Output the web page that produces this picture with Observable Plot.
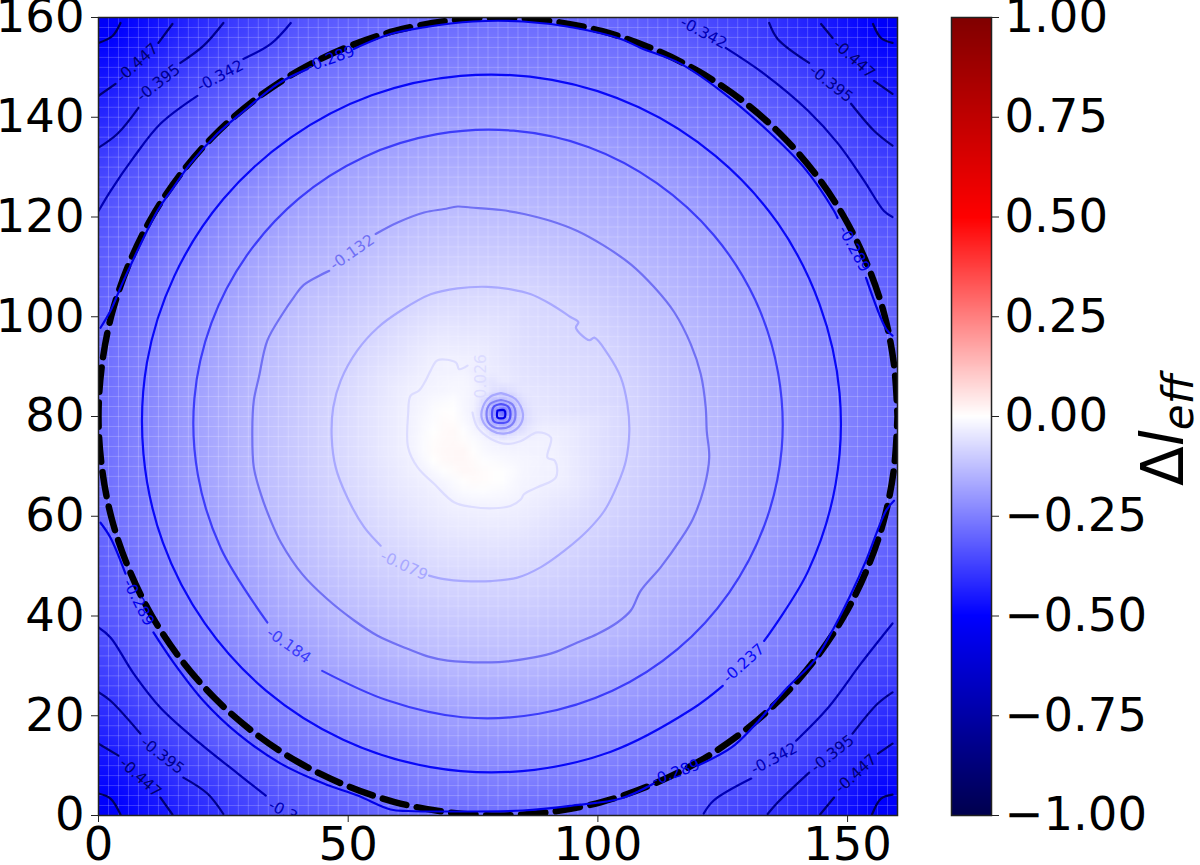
<!DOCTYPE html>
<html>
<head>
<meta charset="utf-8">
<script src="https://cdn.jsdelivr.net/npm/d3@7"></script>
<script src="https://cdn.jsdelivr.net/npm/@observablehq/plot@0.6"></script>
<style>
html,body{margin:0;padding:0;background:#fff;}
#chart{position:relative;width:1200px;height:865px;overflow:hidden;}
#chart svg{position:absolute;left:0;top:0;overflow:visible;background:transparent;}
</style>
</head>
<body>
<div id="chart"></div>
<script>
const GAP = [NaN, NaN];

const xTicks = [0, 50, 100, 150];
const yTicks = [0, 20, 40, 60, 80, 100, 120, 140, 160];
const barTicks = [-1, -0.75, -0.5, -0.25, 0, 0.25, 0.5, 0.75, 1];
const colorDomain = [-1, -0.5, 0, 0.5, 1];
const colorRange = ["#00004d", "#0000ff", "#ffffff", "#ff0000", "#800000"];

// contour lines in data units
const c026 = [[73.9,90.2],[72.2,89.5],[71.6,90.8],[67.9,91.3],[66.5,89.2],[65.5,87.2],[64.2,85.2],[62.5,84.2],[62,80.5],[62,73.8],[63.9,69.8],[67.2,66.5],[71.2,62.8],[74.6,61.9],[79.2,61.6],[82.6,62.1],[84.6,63.4],[85.2,64.4],[87.9,65.8],[91.6,67.8],[91.4,71.1],[89.9,71.8],[90.6,75.8],[87.9,76.8],[84.6,75.1],[81.9,74.5],[78.6,75.5],[75.9,77.8],[74.9,80.8]];
const c079 = [[56.5,54.1],[53.2,57.8],[49.8,63.8],[47.5,69.8],[46.7,75.8],[47,81.8],[48.5,87.2],[51.8,93.2],[55.9,97.8],[60.5,101.2],[66.5,104.5],[71.9,105.7],[77.9,106],[82.6,105.5],[86.6,104.5],[90.6,102.5],[94.6,99.9],[96.1,98.9],[95.6,97.8],[98.3,95.3],[99.3,95.8],[102,92.5],[104.6,87.8],[105.9,82.5],[106.3,77.1],[105.6,71.1],[104,66.5],[101.3,61.1],[97.9,57.1],[93.3,53.1],[88.6,49.8],[83.9,47.7],[78.6,47],[73.2,47],[69.2,47.4],[66.2,48.1]];
const c132 = [[55.5,116.6],[59.9,118.9],[65.2,120.9],[69.2,121.6],[71.9,122.1],[74.5,121.9],[80.6,121.4],[85.2,120.6],[90.6,119.2],[95.9,117.2],[101.3,114.2],[106.6,110.5],[111.3,105.9],[115.3,100.9],[118.6,94.5],[120.6,88.5],[121.6,81.8],[121.8,77.15],[122.3,71.8],[121.3,65.8],[119,59.4],[116.6,55.4],[112.6,49.8],[108.6,45.1],[106.6,41.1],[103.9,38.7],[99.9,36.4],[95.9,34.7],[91.3,32.7],[87.2,31.7],[81.9,30.9],[78.6,30.7],[69.9,31.05],[65.9,31.9],[61.2,33.7],[55.8,36.1],[51.2,39.1],[45.8,43.4],[40.8,48.4],[36.5,54.8],[34.5,59.1],[32.5,64.5],[31.1,69.8],[30.8,77.15],[31.1,83.2],[32.1,87.8],[33.8,95.2],[36.8,100.5],[39.1,103.9],[41.1,106.4],[46.2,109.2]];
const c184 = [[44.8,29],[57.8,23.1],[72.9,19.7],[88.2,20.4],[102.9,25],[115.9,33.3],[126.3,44.7],[133.4,58.3],[136.8,73.4],[136.1,88.7],[131.5,103.4],[123.2,116.4],[111.8,126.8],[98.2,134],[83.1,137.3],[67.8,136.6],[53.1,132],[40.1,123.7],[29.7,112.3],[22.6,98.7],[19.2,83.6],[19.9,68.3],[24.5,53.6],[33.8,38.7]];
const c237 = [[133.3,35],[142.1,49],[147.6,66.4],[148.4,84.7],[144.4,102.5],[136,118.8],[123.6,132.2],[108.2,142],[90.8,147.5],[72.5,148.3],[54.7,144.4],[38.5,135.9],[25,123.6],[15.2,108.2],[9.7,90.8],[9,72.5],[12.9,54.7],[21.3,38.5],[33.6,25],[49,15.2],[66.5,9.7],[84.8,8.9],[102.6,12.8],[118.8,21.3],[125,26]];
const c289 = [[0.4,97.8],[2.4,101.2],[5,107.2],[11.8,121.2],[15,125.9],[18.4,130.7],[23.8,136.7],[29.9,141.9],[35.9,146.7],[41.9,149.7],GAP,
  [51.1,153.7],[58.5,156.7],[65,158],[75,159.2],[85,159.2],[95,158],[104.6,155.7],[108.6,153.9],[116.6,150.7],[124.6,145.3],[134,137.3],[141.3,129.9],[147.3,121.2],[148,119.8],GAP,
  [153.7,107.8],[157.7,97.6],[159,96.2],GAP,
  [159.3,63.1],[157.7,61.1],[153.7,51.1],[150.5,44],[147.3,37.7],[143.3,31],[138,25.7],[131.3,18],[126.7,13.6],[120,10],GAP,
  [111.2,6.4],[104.6,3.4],[95,2],[85,1],[70,0.8],[62,0.9],[58.5,1.2],[51.9,4],[45.1,6.4],[36.5,10.4],[27.9,16.4],[21,23],[15,30.7],[11,36.7],GAP,
  [5.4,48.5],[2.4,55.7],[0.4,58.7]];
const c342 = [[0,121.2],[2.4,125.2],[7,131.9],[12.4,138.7],[19.8,144.3],GAP,[29,151.7],[34.5,154.7],[38.5,158.9],GAP,
  [125.6,153.9],[133.3,148.7],[142.1,141.3],[148.1,134.7],[153.3,127.3],[157.3,121.2],[159,120],GAP,
  [0,37.7],[2.4,35.7],[7,28.5],[12.4,21.6],[20.4,14.4],[27.9,8.4],[33.5,4],GAP,
  [121.2,0.4],[123.2,3],[130.7,7.4],GAP,[139.7,15],[146.1,21.6],[152.7,30.5],[159,38.5]];
const c395 = [[0,133.9],[3.8,136.7],[8,141.9],GAP,[16.4,150.9],[21,154.3],[25,158.9],GAP,
  [134.3,158.9],[136,155.7],[142.3,150.9],GAP,[150.7,142.7],[155.3,137.3],[159,134.3],GAP,
  [0,24.7],[2.4,23],[8.4,16.4],GAP,[17,7.6],[21.8,4.4],[25,0.3],GAP,
  [134,0.3],[136,2.6],[142.3,8.6],GAP,[151,16.4],[156,22.4],[159,24.7]];
const c447 = [[0,144.3],[3.4,146.7],GAP,[12,154.9],[14.8,158.7],GAP,
  [144.7,158.7],[147,155.9],GAP,[155.3,147.3],[159,144.7],GAP,
  [0,14.4],[4,12],GAP,[12.4,3.6],[14.8,0.2],GAP,
  [144.5,0.2],[147.3,3.6],GAP,[156.1,12.4],[159,14.4]];
const c500 = [[0,154.9],[2.8,156.3],[4.4,158.9],GAP,
  [155.1,158.7],[156.7,155.9],[159,154.9],GAP,
  [0,4.4],[2.4,3.4],[4.4,0.2],GAP,
  [154.9,0.2],[156.7,3.4],[159,4.2]];
const hole079 = [[80.6,84.7],[83.5,83.5],[85,80.5],[84.2,78],[81.5,76.6],[78.7,77.2],[76.8,79.5],[77,82],[78.5,84],[80.6,84.7]];
const hole132 = [[80.6,83.3],[82.8,82.5],[83.5,80.5],[82.8,78.4],[80.6,77.6],[78.4,78.4],[77.7,80.5],[78.4,82.5],[80.6,83.3]];
const hole184 = [[80.6,82.5],[82,82],[82.5,80.5],[82,79],[80.6,78.7],[79.2,79],[78.8,80.5],[79.2,82],[80.6,82.5]];
const hole289 = [[79.9,81.2],[81.3,81.2],[81.3,79.8],[79.9,79.8],[79.9,81.2]];

const contours = [
  {level:-0.026, color:"#dcdcff", pts:c026},
  {level:-0.079, color:"#a8a8ff", pts:c079},
  {level:-0.132, color:"#7070f4", pts:c132},
  {level:-0.184, color:"#3c3cfa", pts:c184},
  {level:-0.237, color:"#0808f8", pts:c237},
  {level:-0.289, color:"#0000e8", pts:c289},
  {level:-0.342, color:"#0000b4", pts:c342},
  {level:-0.395, color:"#00008c", pts:c395},
  {level:-0.447, color:"#000070", pts:c447},
  {level:-0.5, color:"#000058", pts:c500},
  {level:-0.079, color:"#a8a8ff", pts:hole079},
  {level:-0.132, color:"#8080f8", pts:hole132},
  {level:-0.184, color:"#5050fa", pts:hole184},
  {level:-0.289, color:"#0000e8", pts:hole289}
];

// inline contour labels: text, position, angle
const labelText = ["-0.447","-0.447","-0.447","-0.447","-0.395","-0.395","-0.395","-0.395","-0.342","-0.342","-0.342","-0.342","-0.289","-0.289","-0.289","-0.289","-0.237","-0.184","-0.132","-0.079","-0.026"];
const labelX = [7.8,151.3,8.4,151.7,12,146.7,12.8,147,24.4,121.2,38.7,135.3,46.5,151.3,8,115.6,129.2,38.1,50.8,61.2,76.6];
const labelY = [150.9,151.7,7.6,8.4,146.9,146.7,12,12.4,148.3,156.9,0,11.4,151.7,113.6,42.7,8.6,30.5,34.1,112.9,50.1,87.5];
const labelAngle = [-42,42,42,-42,-38,38,38,-38,-28,28,28,-28,-20,62,63,-20,-42,35,-35,25,-90];
const labelColor = ["#000070","#000070","#000070","#000070","#00008c","#00008c","#00008c","#00008c","#0000b4","#0000b4","#0000b4","#0000b4","#0000e8","#0000e8","#0000e8","#0000e8","#0808f8","#3c3cfa","#7070f4","#a8a8ff","#dcdcff"];

// field values along the plot edges and inside the bright patch
const edgeLevels = [-0.53,-0.5,-0.447,-0.395,-0.342,-0.3,-0.285,-0.3,-0.342,-0.395,-0.447,-0.5,-0.53];
const topEdgeX = [0,4,15,25,39,58,80,102,116,134,145,155,160];
const bottomEdgeX = [0,4.4,14.8,25,36,58,80,104,121,134,144.5,155,160];
const leftEdgeY = [0,4.4,14.4,24.7,37.7,58.7,78,97.8,121.2,133.9,144.3,154.9,160];
const rightEdgeY = [0,4.2,14.4,24.7,38.5,63,80,96.2,120,134.3,144.7,154.9,160];
const patchX = [73,68,75,80,70,65,85,72,76,76.5,85,88,80.6,80.6,79];
const patchY = [73,72,68,68,80,78,70,85,79,85,85,80,80.5,82,80];
const patchV = [0.015,0.012,0.015,0.005,0.008,-0.01,-0.015,-0.012,-0.015,-0.03,-0.05,-0.045,-0.34,-0.2,-0.2];

// dashed circle
const circleX = [160,159.3,157.3,153.9,149.3,143.5,136.6,128.7,120,110.6,100.7,90.4,80,69.6,59.3,49.4,40,31.3,23.4,16.5,10.7,6.1,2.7,0.7,0,0.7,2.7,6.1,10.7,16.5,23.4,31.3,40,49.4,59.3,69.6,80,90.4,100.7,110.6,120,128.7,136.6,143.5,149.3,153.9,157.3,159.3,160];
const circleY = [80,90.4,100.7,110.6,120,128.7,136.6,143.5,149.3,153.9,157.3,159.3,160,159.3,157.3,153.9,149.3,143.5,136.6,128.7,120,110.6,100.7,90.4,80,69.6,59.3,49.4,40,31.3,23.4,16.5,10.7,6.1,2.7,0.7,0,0.7,2.7,6.1,10.7,16.5,23.4,31.3,40,49.4,59.3,69.6,80];

const gridLines = d3.range(0, 161, 2);

const contourRows = contours.flatMap((c, i) => c.pts.map(p => ({x:p[0], y:p[1], id:i, color:c.color})));
const samples = [
  ...contours.flatMap(c => c.pts.filter(p => !isNaN(p[0])).map(p => ({x:p[0], y:p[1], v:c.level}))),
  ...edgeLevels.map((v,i) => ({x:topEdgeX[i], y:160, v})),
  ...edgeLevels.map((v,i) => ({x:bottomEdgeX[i], y:0, v})),
  ...edgeLevels.map((v,i) => ({x:0, y:leftEdgeY[i], v})),
  ...edgeLevels.map((v,i) => ({x:160, y:rightEdgeY[i], v})),
  ...patchV.map((v,i) => ({x:patchX[i], y:patchY[i], v}))
];
const labels = labelText.map((t,i) => ({t, x:labelX[i], y:labelY[i], a:labelAngle[i], c:labelColor[i]}));
const circle = circleX.map((x,i) => ({x, y:circleY[i]}));

const font = "DejaVu Sans";
const colorScale = {type:"linear", domain:colorDomain, range:colorRange};

const main = Plot.plot({
  width:1200, height:865,
  marginLeft:98, marginRight:303, marginTop:17, marginBottom:50,
  style:{fontFamily:font, background:"transparent", overflow:"visible"},
  x:{domain:[0,160]},
  y:{domain:[0,160]},
  color:colorScale,
  marks:[
    Plot.raster(samples, {x:"x", y:"y", fill:"v", x1:0, y1:0, x2:160, y2:160, width:80, height:80, interpolate:"barycentric"}),
    Plot.ruleX(gridLines, {stroke:"white", strokeOpacity:0.2, strokeWidth:1}),
    Plot.ruleY(gridLines, {stroke:"white", strokeOpacity:0.2, strokeWidth:1}),
    Plot.line(circle, {x:"x", y:"y", stroke:"black", strokeWidth:6.5, strokeDasharray:"24.4,10.56", strokeDashoffset:18.5, curve:"catmull-rom", clip:true}),
    Plot.line(contourRows, {x:"x", y:"y", z:"id", stroke:"color", strokeWidth:2.2, curve:"catmull-rom", clip:true}),
    Plot.text(labels, {x:"x", y:"y", text:"t", rotate:"a", fill:"c", fontSize:15.5, clip:true}),
    Plot.frame({stroke:"#222", strokeWidth:1.5}),
    Plot.axisX({ticks:xTicks, tickSize:7, tickPadding:4, fontSize:46.5, label:null, tickFormat:d=>String(d), stroke:"#222"}),
    Plot.axisY({ticks:yTicks, tickSize:7, tickPadding:7, fontSize:46.5, label:null, tickFormat:d=>String(d), stroke:"#222"})
  ]
});

const bar = Plot.plot({
  width:1200, height:865,
  marginLeft:951, marginRight:209, marginTop:17, marginBottom:50,
  style:{fontFamily:font, background:"transparent", overflow:"visible"},
  x:{domain:[0,1], axis:null},
  y:{domain:[-1,1]},
  color:colorScale,
  marks:[
    Plot.raster({fill:(x,y)=>y, x1:0, x2:1, y1:-1, y2:1, width:2, height:400}),
    Plot.frame({stroke:"#222", strokeWidth:1.5}),
    Plot.axisY({anchor:"right", ticks:barTicks, tickSize:7, tickPadding:6, fontSize:46.5, label:null,
      tickFormat:d=>d3.format(".2f")(d).replace("-","\u2212"), stroke:"#222"})
  ]
});

const root = document.getElementById("chart");
root.appendChild(main);
root.appendChild(bar);

const lab = d3.select(bar).append("text")
  .attr("transform","translate(1183,430) rotate(-90)")
  .attr("text-anchor","middle")
  .attr("font-family",font)
  .attr("font-size",58)
  .attr("fill","black");
lab.append("tspan").text("\u0394");
lab.append("tspan").attr("font-style","italic").text("l");
lab.append("tspan").attr("font-style","italic").attr("font-size",42).attr("dy",10).text("eff");
</script>
</body>
</html>
